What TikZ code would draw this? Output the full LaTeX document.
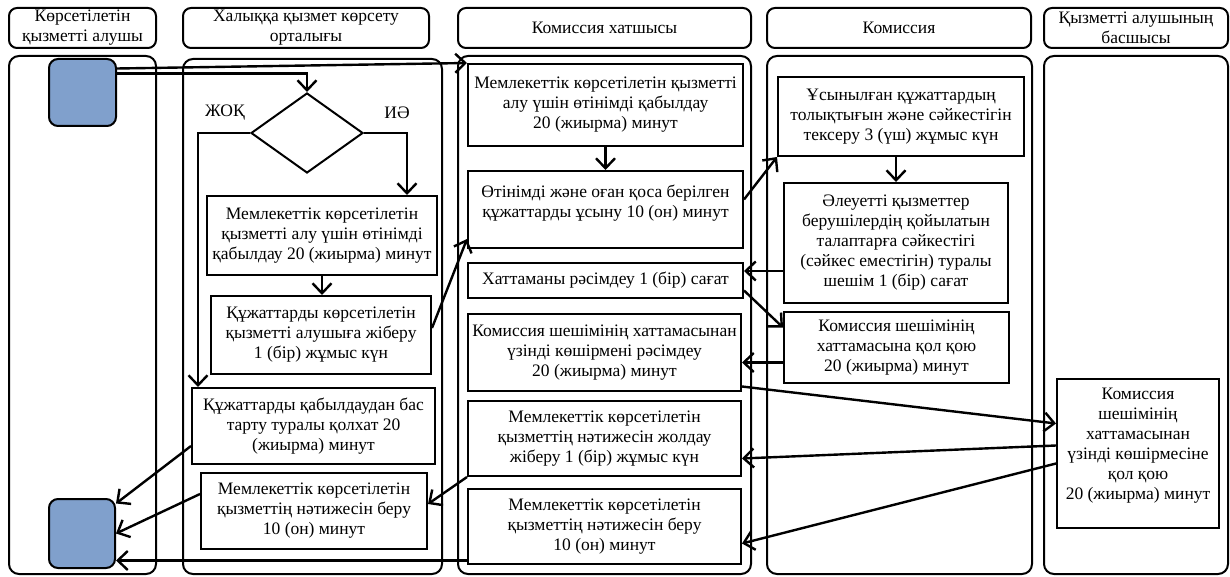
\documentclass[tikz,border=0pt]{standalone}
\usepackage{fontspec}
\setmainfont{Liberation Serif}
\usetikzlibrary{arrows.meta,shapes.geometric}
\definecolor{startblue}{RGB}{128,160,204}
\begin{document}
\begin{tikzpicture}[x=1pt,y=-1pt,
  lane/.style={draw, line width=2pt, rounded corners=10pt, anchor=north west, inner sep=0pt},
  hdr/.style={draw, line width=2pt, rounded corners=8pt, align=center, anchor=north west, inner sep=0pt, font=\fontsize{17.5}{20}\selectfont},
  box/.style={draw, line width=2pt, align=center, anchor=north west, inner sep=1pt, font=\fontsize{17.5}{20}\selectfont},
  term/.style={draw, line width=2pt, rounded corners=9pt, fill=startblue, anchor=north west, inner sep=0pt},
  lbl/.style={font=\fontsize{17.5}{20}\selectfont, inner sep=0pt},
  arr/.style={line width=2.4pt, -{Straight Barb[length=10pt,width=19pt]}},
  ln/.style={line width=2.4pt}]
\useasboundingbox (0,0) rectangle (1230,577);
% headers
\node[hdr, minimum width=147pt, minimum height=40pt] (h1) at (8,7) {Көрсетілетін\\қызметті алушы};
\node[hdr, minimum width=246pt, minimum height=40pt] (h2) at (182,7) {Халыққа қызмет көрсету\\орталығы};
\node[hdr, minimum width=293pt, minimum height=40pt] (h3) at (457,7) {Комиссия хатшысы};
\node[hdr, minimum width=264pt, minimum height=40pt] (h4) at (766,7) {Комиссия};
\node[hdr, minimum width=184pt, minimum height=40pt] (h5) at (1043,7) {Қызметті алушының\\басшысы};
% lanes
\node[lane, minimum width=147pt, minimum height=518pt] (b1) at (8,55) {};
\node[lane, minimum width=259pt, minimum height=515pt] (b2) at (182,58) {};
\node[lane, minimum width=293pt, minimum height=518pt] (b3) at (457,55) {};
\node[lane, minimum width=265pt, minimum height=518pt] (b4) at (766,55) {};
\node[lane, minimum width=184pt, minimum height=518pt] (b5) at (1043,55) {};
% terminals
\node[term, minimum width=67pt, minimum height=67pt] (start) at (48,58) {};
\node[term, minimum width=66pt, minimum height=69pt] (end) at (48,498) {};
% decision
\node[draw, line width=2pt, diamond, minimum width=112pt, minimum height=80pt, inner sep=0pt] (dia) at (307,133) {};
\node[lbl] (no) at (225,113) {ЖОҚ};
\node[lbl] (yes) at (397,113) {ИӘ};
% lane 2 boxes
\node[box, minimum width=230pt, minimum height=79pt] (A) at (206,195) {Мемлекеттік көрсетілетін\\қызметті алу үшін өтінімді\\қабылдау 20 (жиырма) минут};
\node[box, minimum width=220pt, minimum height=78pt] (B) at (210,295) {Құжаттарды көрсетілетін\\қызметті алушыға жіберу\\1 (бір) жұмыс күн};
\node[box, minimum width=243pt, minimum height=76pt] (C) at (191,387) {Құжаттарды қабылдаудан бас\\тарту туралы қолхат 20\\(жиырма) минут};
\node[box, minimum width=226pt, minimum height=76pt] (D) at (200,472) {Мемлекеттік көрсетілетін\\қызметтің нәтижесін беру\\10 (он) минут};
% lane 3 boxes
\node[box, minimum width=275pt, minimum height=82pt] (E) at (467,63) {Мемлекеттік көрсетілетін қызметті\\алу үшін өтінімді қабылдау\\20 (жиырма) минут};
\node[box, minimum width=275pt, minimum height=77pt] (F) at (467,170) {Өтінімді және оған қоса берілген\\құжаттарды ұсыну 10 (он) минут\\[-9pt]\strut};
\node[box, minimum width=275pt, minimum height=35pt] (G) at (467,262) {Хаттаманы рәсімдеу 1 (бір) сағат};
\node[box, minimum width=273pt, minimum height=77pt] (H) at (467,313) {Комиссия шешімінің хаттамасынан\\үзінді көшірмені рәсімдеу\\20 (жиырма) минут};
\node[box, minimum width=273pt, minimum height=75pt] (I) at (467,400) {Мемлекеттік көрсетілетін\\қызметтің нәтижесін жолдау\\жіберу 1 (бір) жұмыс күн};
\node[box, minimum width=273pt, minimum height=75pt] (K) at (467,488) {Мемлекеттік көрсетілетін\\қызметтің нәтижесін беру\\10 (он) минут};
% lane 4 boxes
\node[box, minimum width=246pt, minimum height=79pt] (L) at (777,76) {Ұсынылған құжаттардың\\толықтығын және сәйкестігін\\тексеру 3 (үш) жұмыс күн};
\node[box, minimum width=224pt, minimum height=120pt] (M) at (783,182) {Әлеуетті қызметтер\\берушілердің қойылатын\\талаптарға сәйкестігі\\(сәйкес еместігін) туралы\\шешім 1 (бір) сағат};
\node[box, minimum width=225pt, minimum height=71pt] (N) at (783,311) {Комиссия шешімінің\\хаттамасына қол қою\\20 (жиырма) минут};
% lane 5 box
\node[box, minimum width=162pt, minimum height=149pt] (P) at (1056,378) {Комиссия\\шешімінің\\хаттамасынан\\үзінді көшірмесіне\\қол қою\\20 (жиырма) минут\\[-6pt]\strut};
% connectors
\draw[arr] ([yshift=24pt]start.east) -- (E.north west);
\draw[arr] ([yshift=19pt]start.east) -| (dia.north);
\draw[arr] (dia.west) -| ([xshift=7pt]C.north west);
\draw[arr] (dia.east) -| ([xshift=-31pt]A.north east);
\draw[arr] (A.south) -- (A.south |- B.north);
\draw[arr] ([yshift=7pt]B.east) -- ([yshift=10pt]F.south west);
\draw[arr] (E.south) -- (E.south |- F.north);
\draw[arr] ([yshift=10pt]F.east) -- (L.south west);
\draw[arr] (M.north |- L.south) -- (M.north);
\draw[arr] ([yshift=-28pt]M.west) -- ([yshift=-28pt]M.west -| G.east);
\draw[arr] ([yshift=-10pt]G.east) -- ([yshift=20pt]N.west);
\draw[arr] ([yshift=-15pt]N.west) -- ([yshift=-15pt]N.west -| H.east);
\draw[arr] ([yshift=-34pt]H.east) -- ([yshift=30pt]P.west);
\draw[arr] ([yshift=8pt]P.west) -- ([yshift=-20pt]I.east);
\draw[arr] ([yshift=-10pt]P.west) -- ([yshift=-17pt]K.east);
\draw[arr] (I.south west) -- ([yshift=7pt]D.east);
\draw[arr] ([yshift=-34pt]K.west) -- ([yshift=-34pt]K.west -| end.east);
\draw[arr] ([yshift=-20pt]C.west) -- ([yshift=30pt]end.east);
\draw[arr] ([yshift=17pt]D.west) -- (end.east);
\end{tikzpicture}
\end{document}
